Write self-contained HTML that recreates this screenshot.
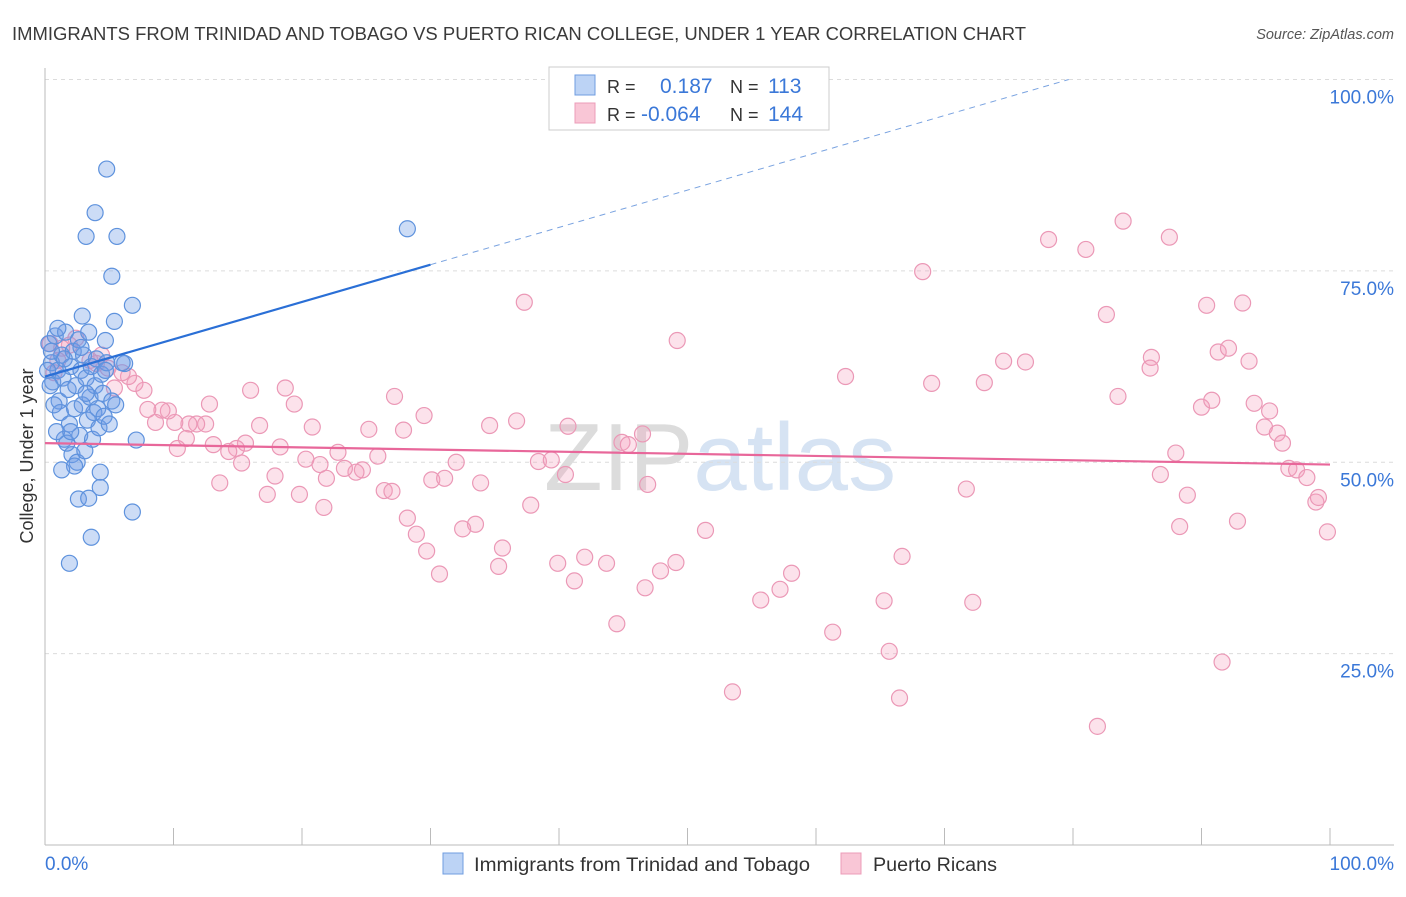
<!DOCTYPE html>
<html><head><meta charset="utf-8">
<style>
body{margin:0;background:#fff;font-family:"Liberation Sans",sans-serif;}
svg text{font-family:"Liberation Sans",sans-serif;}
</style></head>
<body>
<svg id="chart" width="1406" height="892" xmlns="http://www.w3.org/2000/svg">
<text x="12" y="40" font-size="18" fill="#3a3a3a" textLength="1014" lengthAdjust="spacingAndGlyphs">IMMIGRANTS FROM TRINIDAD AND TOBAGO VS PUERTO RICAN COLLEGE, UNDER 1 YEAR CORRELATION CHART</text>
<text x="1394" y="39" font-size="14.5" fill="#555" text-anchor="end" font-style="italic">Source: ZipAtlas.com</text>
<text x="720" y="490" font-size="96" fill="#e4e4e4" text-anchor="middle" font-family="Liberation Serif"><tspan fill="#dcdcdc">ZIP</tspan><tspan fill="#d6e3f3" font-family="Liberation Sans">atlas</tspan></text>
<g id="grid"></g>
<g id="axes"></g>
<g id="marks"></g>
<text transform="translate(33,456) rotate(-90)" font-size="18" fill="#333" text-anchor="middle">College, Under 1 year</text>
<g>
<rect x="549" y="67" width="280" height="63" fill="#fff" stroke="#ccc"/>
<rect x="575" y="75" width="20" height="20" fill="#bcd3f5" stroke="#6f9ce0"/>
<rect x="575" y="103" width="20" height="20" fill="#f9c6d6" stroke="#ec9cb8"/>
<text x="607" y="93" font-size="18" fill="#333">R =</text>
<text x="660" y="93" font-size="21" fill="#3b78d8">0.187</text>
<text x="730" y="93" font-size="18" fill="#333">N =</text>
<text x="768" y="93" font-size="21" fill="#3b78d8">113</text>
<text x="607" y="121" font-size="18" fill="#333">R =</text>
<text x="641" y="121" font-size="21" fill="#3b78d8">-0.064</text>
<text x="730" y="121" font-size="18" fill="#333">N =</text>
<text x="768" y="121" font-size="21" fill="#3b78d8">144</text>
</g>
<g>
<rect x="443" y="853" width="20" height="21" fill="#bcd3f5" stroke="#6f9ce0"/>
<text x="474" y="871" font-size="19" fill="#333" textLength="336" lengthAdjust="spacingAndGlyphs">Immigrants from Trinidad and Tobago</text>
<rect x="841" y="853" width="20" height="21" fill="#f9c6d6" stroke="#ec9cb8"/>
<text x="873" y="871" font-size="19" fill="#333" textLength="124" lengthAdjust="spacingAndGlyphs">Puerto Ricans</text>
</g>
</svg>
<script>
const yTicks=[25,50,75,100];
const yTickLabels=["25.0%","50.0%","75.0%","100.0%"];
const xTicks=[0,10,20,30,40,50,60,70,80,90,100];
const blueData=[[4.8,88.3],[3.9,82.6],[3.2,79.5],[5.6,79.5],[5.2,74.3],[6.8,70.5],[5.4,68.4],[28.2,80.5],[1.9,36.8],[3.6,40.2],[6.8,43.5],[2.6,45.2],[3.4,45.3],[4.3,48.7],[4.3,46.7],[7.1,52.9],[6.2,62.9],[4.7,65.9],[2.9,69.1],
[0.3,65.5],[0.5,63],[0.6,60.5],[0.8,66.5],[1,62],[1.1,58],[1.2,56.5],[1.3,64],[1.4,61],[1.5,53],[1.6,67],[1.8,59.5],[1.9,55],[2,62.5],[2.1,51],[2.2,64.5],[2.3,57],[2.4,60],[2.5,50],[2.6,66],[2.7,53.5],[2.8,62],[2.9,57.5],[3,64],[3.1,51.5],[3.2,61],[3.3,55.5],[3.4,67],[3.5,58.5],[3.6,62.5],[3.7,53],[3.8,56.5],[3.9,60],[4,63.5],[4.1,57],[4.2,54.5],[4.4,61.5],[4.5,59],[4.6,56],[4.8,63],[5,55],[5.2,58],[5.5,57.5],[6,63],[0.4,60],[0.9,54],[1.7,52.5],[2.3,49.5],[1,67.5],[0.2,62],[1.5,63.5],[2.8,65],[0.7,57.5],[3.2,59],[2,54],[1.3,49],[4.7,62],[0.5,64.5]];
const pinkData=[[83.9,81.5],[78.1,79.1],[81.0,77.8],[87.5,79.4],[68.3,74.9],[37.3,70.9],[90.4,70.5],[93.2,70.8],[82.6,69.3],[49.2,65.9],[74.6,63.2],[76.3,63.1],[86.1,63.7],[86.0,62.3],[91.3,64.4],[92.1,64.9],[93.7,63.2],[62.3,61.2],[69.0,60.3],[73.1,60.4],[83.5,58.6],[90.0,57.2],[90.8,58.1],[94.1,57.7],[95.3,56.7],[94.9,54.6],[95.9,53.8],[96.3,52.5],[88.0,51.2],[86.8,48.4],[88.9,45.7],[96.8,49.2],[97.4,49.0],[98.2,48.0],[98.9,44.8],[99.1,45.4],[99.8,40.9],[88.3,41.6],[92.8,42.3],[91.6,23.9],[71.7,46.5],[66.7,37.7],[65.7,25.3],[66.5,19.2],[65.3,31.9],[61.3,27.8],[72.2,31.7],[58.1,35.5],[57.2,33.4],[55.7,32.0],[53.5,20.0],[81.9,15.5],[51.4,41.1],[49.1,36.9],[47.9,35.8],[46.7,33.6],[44.5,28.9],[43.7,36.8],[41.2,34.5],[42.0,37.6],[39.9,36.8],[35.3,36.4],[35.6,38.8],[33.5,41.9],[32.5,41.3],[30.7,35.4],[29.7,38.4],[28.9,40.6],[28.2,42.7],[30.1,47.7],[31.1,47.9],[32.0,50.0],[33.9,47.3],[34.6,54.8],[36.7,55.4],[40.7,54.7],[38.4,50.1],[39.4,50.3],[40.5,48.4],[44.9,52.6],[45.4,52.3],[46.5,53.7],[46.9,47.1],[37.8,44.4],[27.2,58.6],[29.5,56.1],[27.9,54.2],[26.4,46.3],[27.0,46.2],[25.9,50.8],[25.2,54.3],[24.7,49.0],[24.2,48.7],[23.3,49.2],[22.8,51.3],[21.9,47.9],[21.4,49.7],[20.8,54.6],[21.7,44.1],[20.3,50.4],[19.8,45.8],[19.4,57.6],[18.7,59.7],[18.3,52.0],[17.9,48.2],[17.3,45.8],[16.7,54.8],[16.0,59.4],[15.6,52.5],[15.3,49.9],[14.9,51.8],[14.3,51.4],[13.6,47.3],[13.1,52.3],[12.8,57.6],[12.5,55.0],[11.8,55.0],[11.2,55.0],[11.0,53.1],[10.3,51.8],[10.1,55.2],[9.6,56.7],[9.1,56.8],[8.6,55.2],[8.0,56.9],[7.7,59.4],[7.0,60.3],[6.5,61.2],[6.0,61.7],[5.4,59.7],[4.9,62.3],[4.4,64.0],[4.0,62.9],[3.5,63.3],[2.4,66.2],[1.9,65.3],[1.3,64.9],[1.0,63.3],[0.7,61.7],[0.4,65.5]];
const blueTrend=[61.2,0.487];
const pinkTrend=[52.5,-0.028];

const NS="http://www.w3.org/2000/svg";
const X0=45,X1=1330,Y0=845,Y100=79.5;
const xs=v=>X0+(X1-X0)*v/100;
const ys=v=>Y0-(Y0-Y100)*v/100;
function mk(tag,attrs,parent){const e=document.createElementNS(NS,tag);for(const k in attrs)e.setAttribute(k,attrs[k]);parent.appendChild(e);return e;}
const grid=document.getElementById('grid'),axes=document.getElementById('axes'),marks=document.getElementById('marks');
yTicks.forEach((t,i)=>{
 const l=mk('line',{x1:X0,x2:1394,y1:ys(t),y2:ys(t),stroke:'#dcdcdc','stroke-dasharray':'4,4'},grid);
 
 
 const tx=mk('text',{x:1394,y:ys(t)+24,'font-size':19,fill:'#3b78d8','text-anchor':'end'},axes);
 tx.textContent=yTickLabels[i];
 
 
});
const ax=mk('line',{x1:X0,x2:X0,y1:68,y2:Y0,stroke:'#bbb'},axes);


const bx=mk('line',{x1:X0,x2:1394,y1:Y0,y2:Y0,stroke:'#bbb'},axes);


xTicks.forEach(t=>{
 const l=mk('line',{x1:xs(t),x2:xs(t),y1:828,y2:Y0,stroke:'#bbb'},axes);
 
 
});
const xl0=mk('text',{x:45,y:870,'font-size':19,fill:'#3b78d8'},axes);xl0.textContent='0.0%';


const xl1=mk('text',{x:1394,y:870,'font-size':19,fill:'#3b78d8','text-anchor':'end'},axes);xl1.textContent='100.0%';



pinkData.forEach(d=>{
 const c=mk('circle',{cx:xs(d[0]),cy:ys(d[1]),r:8,fill:'rgba(244,160,190,0.3)',stroke:'#eb98b6','stroke-width':1.2},marks);
 
 
});
blueData.forEach(d=>{
 const c=mk('circle',{cx:xs(d[0]),cy:ys(d[1]),r:8,fill:'rgba(110,155,230,0.35)',stroke:'#5e92dd','stroke-width':1.2},marks);
 
 
});
const bEnd=(100-blueTrend[0])/blueTrend[1];
const b1=mk('line',{x1:xs(0),y1:ys(blueTrend[0]),x2:xs(30),y2:ys(blueTrend[0]+blueTrend[1]*30),stroke:'#2a6fd6','stroke-width':2.2},marks);


const b2=mk('line',{x1:xs(30),y1:ys(blueTrend[0]+blueTrend[1]*30),x2:xs(bEnd),y2:ys(100),stroke:'#7aa3e0','stroke-width':1,'stroke-dasharray':'6,5'},marks);


const p1=mk('line',{x1:xs(0),y1:ys(pinkTrend[0]),x2:xs(100),y2:ys(pinkTrend[0]+pinkTrend[1]*100),stroke:'#e8679a','stroke-width':2.2},marks);


</script>
</body></html>
